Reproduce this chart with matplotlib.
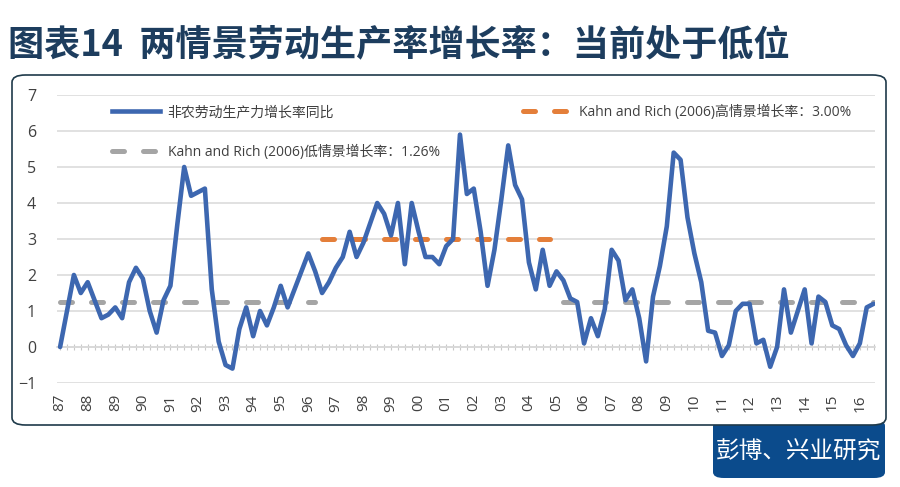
import matplotlib
matplotlib.use('Agg')
import matplotlib.pyplot as plt
from matplotlib.patches import FancyBboxPatch
from matplotlib.lines import Line2D
import numpy as np

plt.rcParams['font.family'] = ['Open Sans', 'Noto Sans CJK SC']

# ---------------- data ----------------
year_labels = ['87', '88', '89', '90', '91', '92', '93', '94', '95', '96',
               '97', '98', '99', '00', '01', '02', '03', '04', '05', '06',
               '07', '08', '09', '10', '11', '12', '13', '14', '15', '16']

# quarterly nonfarm labour productivity growth, 1987Q1 - 2016Q3 (%)
productivity = [
    0.0, 1.0, 2.0, 1.5, 1.8, 1.3, 0.8, 0.9, 1.1, 0.8,
    1.8, 2.2, 1.9, 1.0, 0.4, 1.3, 1.7, 3.4, 5.0, 4.2,
    4.3, 4.4, 1.6, 0.15, -0.5, -0.6, 0.5, 1.1, 0.3, 1.0,
    0.6, 1.1, 1.7, 1.1, 1.6, 2.1, 2.6, 2.1, 1.5, 1.8,
    2.2, 2.5, 3.2, 2.5, 2.9, 3.45, 4.0, 3.7, 3.1, 4.0,
    2.3, 4.0, 3.2, 2.5, 2.5, 2.3, 2.8, 3.0, 5.9, 4.25,
    4.4, 3.2, 1.7, 2.7, 4.1, 5.6, 4.5, 4.1, 2.35, 1.6,
    2.7, 1.7, 2.1, 1.85, 1.35, 1.25, 0.1, 0.8, 0.3, 1.05,
    2.7, 2.4, 1.3, 1.6, 0.8, -0.4, 1.4, 2.25, 3.35, 5.4,
    5.2, 3.6, 2.6, 1.8, 0.45, 0.4, -0.25, 0.05, 1.0, 1.2,
    1.2, 0.1, 0.2, -0.55, 0.0, 1.6, 0.4, 1.0, 1.6, 0.1,
    1.4, 1.25, 0.6, 0.5, 0.05, -0.25, 0.1, 1.1, 1.2,
]

low_level = 1.26          # Kahn and Rich (2006) low scenario
high_level = 3.00         # Kahn and Rich (2006) high scenario
high_period = (38, 71)    # quarter index range of high-growth regime (1996Q3-2004Q4)
low_resume = 73           # low regime resumes (2005Q2)

series_labels = ['非农劳动生产力增长率同比',
                 'Kahn and Rich (2006)低情景增长率：1.26%',
                 'Kahn and Rich (2006)高情景增长率：3.00%']

title_text = '图表14  两情景劳动生产率增长率：当前处于低位'
source_text = '彭博、兴业研究'

# ---------------- style ----------------
BLUE = '#3D67B0'
ORANGE = '#E47F3A'
GRAY = '#A5A5A5'
NAVY = '#1D3D5E'
TXT = '#404040'

W, H = 900, 487
fig = plt.figure(figsize=(W / 100, H / 100), dpi=100)

# frame box and source box (figure level, behind the axes)
src_box = FancyBboxPatch((713 / W, (H - 478) / H), (885 - 713) / W, (478 - 420) / H,
                         boxstyle='round,pad=0,rounding_size=0.012',
                         transform=fig.transFigure, facecolor='#0B4B8C',
                         edgecolor='none', zorder=-3)
fig.patches.append(src_box)
frame = FancyBboxPatch((12 / W, (H - 425) / H), (886 - 12) / W, (425 - 75) / H,
                       boxstyle='round,pad=0,rounding_size=0.015',
                       transform=fig.transFigure, facecolor='white',
                       edgecolor='#1F3A4A', lw=1.2, zorder=-2)
fig.patches.append(frame)

fig.text(8 / W, 1 - 45 / H, title_text, fontsize=26, color=NAVY,
         fontweight='bold', va='center', ha='left',
         family=['Noto Sans CJK SC', 'DejaVu Sans'])
fig.text(799 / W, 1 - 452 / H, source_text, fontsize=17, color='white',
         va='center', ha='center', family=['Noto Sans CJK SC'])

ax = fig.add_axes([57 / W, (H - 383) / H, (875 - 57) / W, (383 - 95) / H])
ax.set_facecolor('none')

n = len(productivity)
x = np.arange(n)
low = np.full(n, np.nan)
low[:high_period[0]] = low_level
low[low_resume:] = low_level
high = np.full(n, np.nan)
high[high_period[0]:high_period[1] + 1] = high_level

dash = (2.4, 3.8)
ax.plot(x, low, color=GRAY, lw=3.6, dashes=dash, dash_capstyle='round', zorder=2)
ax.plot(x, high, color=ORANGE, lw=3.6, dashes=dash, dash_capstyle='round', zorder=2)
ax.plot(x, productivity, color=BLUE, lw=3.3, solid_joinstyle='round',
        solid_capstyle='round', zorder=3)

ax.set_ylim(-1, 7)
ax.set_yticks(range(-1, 8))
ax.set_xlim(-0.45, 118.2)
ax.set_xticks(np.arange(0, n, 4)[:len(year_labels)])
ax.set_xticklabels(year_labels, rotation=90, fontsize=11, color=TXT)
ax.tick_params(axis='x', length=0, pad=8)
ax.tick_params(axis='y', length=0, pad=15, labelsize=11.5, labelcolor=TXT)
ax.grid(axis='y', color='#D9D9D9', lw=1.1)
ax.set_axisbelow(True)
for s in ax.spines.values():
    s.set_visible(False)

# category axis line at y = 0 with a tick at every quarter
sec = ax.secondary_xaxis(1 / 8)
sec.set_xticks(x)
sec.set_xticklabels([])
sec.tick_params(axis='x', direction='inout', length=5, width=0.8, color='#C8C8C8')
sec.spines['bottom'].set_color('#D0D0D0')
sec.spines['bottom'].set_linewidth(1.1)

handles = [Line2D([], [], color=BLUE, lw=3.3),
           Line2D([], [], color=GRAY, lw=3.6, dashes=dash, dash_capstyle='round'),
           Line2D([], [], color=ORANGE, lw=3.6, dashes=dash, dash_capstyle='round')]
leg = ax.legend(handles, series_labels, ncol=2, loc='upper left',
                bbox_to_anchor=((112 - 57) / 818, 1 - (105 - 95) / 288),
                frameon=False, fontsize=10, handlelength=3.45,
                handletextpad=0.55, columnspacing=6.0, labelspacing=1.75,
                borderaxespad=0, borderpad=0)
for t in leg.get_texts():
    t.set_color(TXT)

fig.savefig('out.png', dpi=100)
